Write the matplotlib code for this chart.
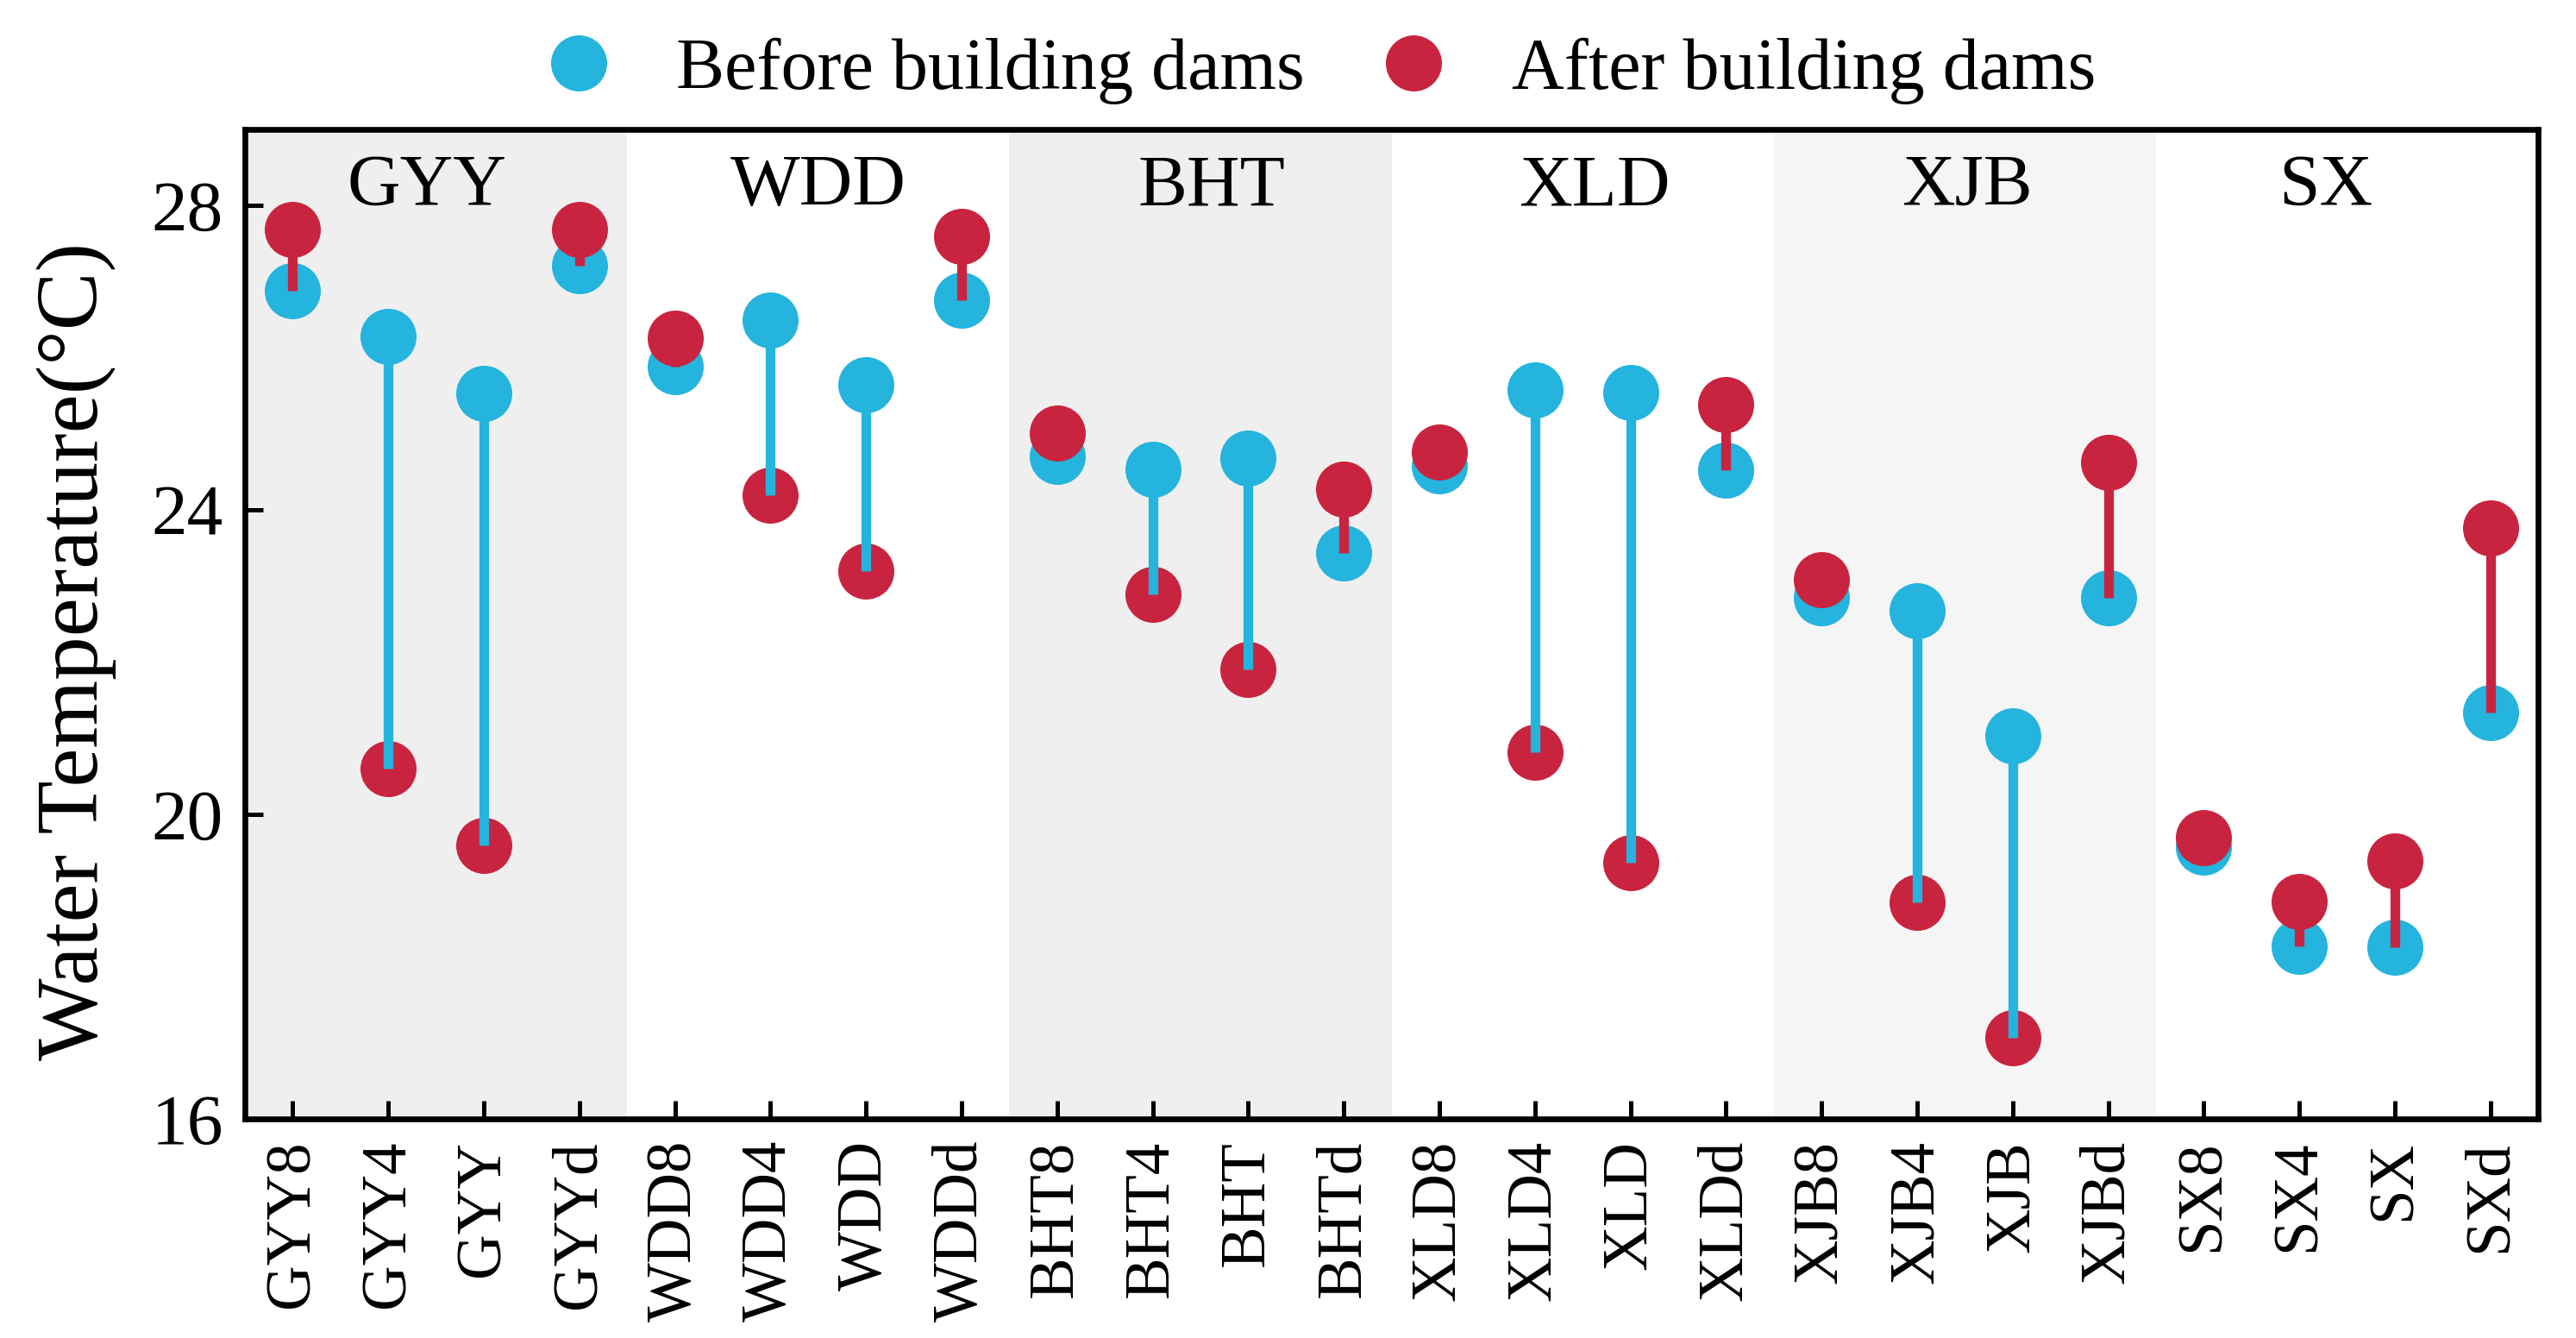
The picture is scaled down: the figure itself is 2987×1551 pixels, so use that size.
import matplotlib
matplotlib.use("Agg")
import matplotlib.pyplot as plt
from matplotlib.lines import Line2D

plt.rcParams['font.family'] = ['Liberation Serif', 'DejaVu Serif']

# ---- data ----
categories = ["GYY8", "GYY4", "GYY", "GYYd",
              "WDD8", "WDD4", "WDD", "WDDd",
              "BHT8", "BHT4", "BHT", "BHTd",
              "XLD8", "XLD4", "XLD", "XLDd",
              "XJB8", "XJB4", "XJB", "XJBd",
              "SX8", "SX4", "SX", "SXd"]
before = [26.88, 26.28, 25.53, 27.21,
          25.88, 26.50, 25.64, 26.75,
          24.70, 24.53, 24.68, 23.44,
          24.58, 25.58, 25.54, 24.52,
          22.85, 22.67, 21.03, 22.84,
          19.57, 18.27, 18.25, 21.34]
after = [27.69, 20.60, 19.59, 27.69,
         26.26, 24.19, 23.20, 27.59,
         25.01, 22.89, 21.90, 24.27,
         24.76, 20.82, 19.36, 25.38,
         23.08, 18.84, 17.07, 24.62,
         19.70, 18.85, 19.39, 23.76]
groups = ["GYY", "WDD", "BHT", "XLD", "XJB", "SX"]
legend_labels = ["Before building dams", "After building dams"]
yticks = [16, 20, 24, 28]

# ---- styling ----
group_bg = ["#efefef", "#ffffff", "#efefef", "#ffffff", "#f5f5f5", "#ffffff"]
group_label_shift = [-0.10, 0.0, 0.12, 0.12, 0.02, -0.22]
blue = "#24b4dd"
red = "#c9243f"

fig = plt.figure(figsize=(2987 / 300, 1551 / 300), dpi=300)
ax = fig.add_axes([0.0951, 0.1638, 0.9853 - 0.0951, 0.9033 - 0.1638])

x = list(range(len(categories)))
n_per = 4
for gi, (g, bg) in enumerate(zip(groups, group_bg)):
    lo = gi * n_per - 0.5
    hi = lo + n_per
    ax.axvspan(lo, hi, color=bg, zorder=0, lw=0)
    ax.text((lo + hi) / 2 + group_label_shift[gi], 28.0, g, ha='center', va='baseline',
            fontsize=20.5, zorder=5)

ms = 15.6
ax.plot(x, before, 'o', color=blue, markersize=ms, markeredgewidth=0, zorder=2)
ax.plot(x, after, 'o', color=red, markersize=ms, markeredgewidth=0, zorder=3)
line_colors = [red if a > b else blue for a, b in zip(after, before)]
ax.vlines(x, before, after, colors=line_colors, linewidth=2.7, zorder=4, capstyle='butt')

ax.set_xlim(-0.5, len(categories) - 0.5)
ax.set_ylim(16, 29)
ax.set_xticks(x)
ax.set_xticklabels(categories, rotation=90, fontsize=17.5)
ax.set_yticks(yticks)
ax.set_yticklabels([str(t) for t in yticks], fontsize=20)
ax.tick_params(axis='both', direction='in', length=5, width=1.2)
ax.tick_params(axis='x', pad=6)
ax.tick_params(axis='y', pad=6)
for s in ax.spines.values():
    s.set_linewidth(1.6)
    s.set_zorder(6)

ax.set_ylabel("Water Temperature(°C)", fontsize=24.3)
ax.yaxis.set_label_coords(-0.056, 0.4725)

handles = [Line2D([], [], ls='none', marker='o', color=blue, markersize=ms, markeredgewidth=0),
           Line2D([], [], ls='none', marker='o', color=red, markersize=ms, markeredgewidth=0)]
fig.legend(handles, legend_labels, loc='center', bbox_to_anchor=(0.512, 0.947), ncol=2,
           frameon=False, fontsize=20.2, handlelength=1.0, handletextpad=0.85,
           columnspacing=1.0, borderpad=0)

fig.savefig("out.png", dpi=300)
